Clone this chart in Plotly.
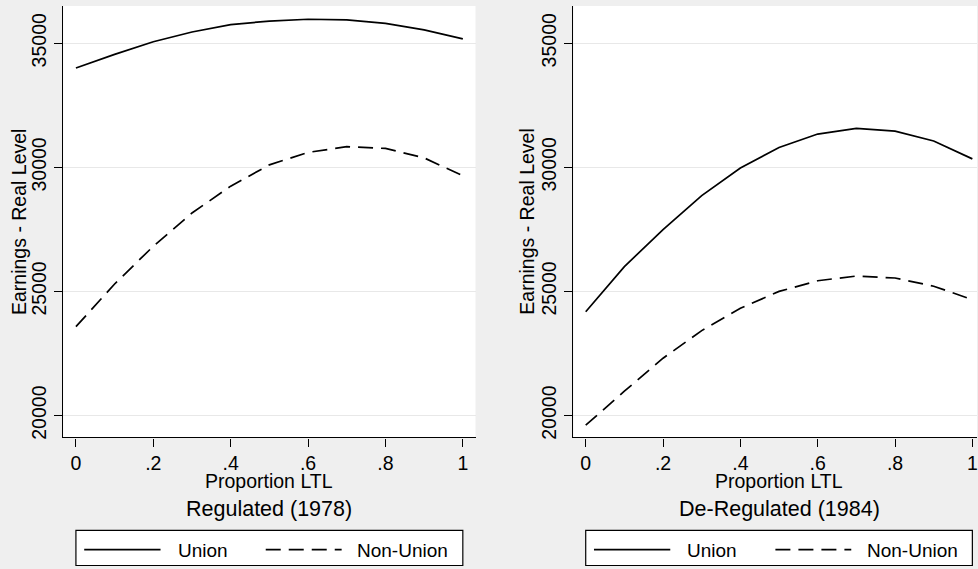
import plotly.graph_objects as go

# ---- data ----
x_ltl = [0, 0.1, 0.2, 0.3, 0.4, 0.5, 0.6, 0.7, 0.8, 0.9, 1.0]
reg_union = [34000, 34550, 35060, 35450, 35750, 35890, 35965, 35940, 35800, 35535, 35175]
reg_nonunion = [23580, 25300, 26820, 28160, 29240, 30100, 30600, 30830, 30760, 30380, 29660]
dereg_union = [24180, 26000, 27490, 28860, 29970, 30800, 31340, 31570, 31460, 31060, 30340]
dereg_nonunion = [19610, 20980, 22310, 23420, 24320, 25000, 25430, 25620, 25540, 25210, 24670]

y_ticks = [20000, 25000, 30000, 35000]
y_ticklabels = ["20000", "25000", "30000", "35000"]
x_ticks = [0, 0.2, 0.4, 0.6, 0.8, 1.0]
x_ticklabels = ["0", ".2", ".4", ".6", ".8", "1"]
panel_titles = ["Regulated (1978)", "De-Regulated (1984)"]
series_names = ["Union", "Non-Union"]
y_title = "Earnings - Real Level"
x_title = "Proportion LTL"

# ---- layout constants ----
W, H = 978, 569
FONT = "Liberation Sans, Arial, sans-serif"
BG = "#efefef"
DASH = "15px,8px"
LW = 1.7


def px(v):
    return v / W


def py(v):
    return 1 - v / H


fig = go.Figure()

panels = [
    ("x", "y", reg_union, reg_nonunion),
    ("x2", "y2", dereg_union, dereg_nonunion),
]
for xa, ya, uni, non in panels:
    fig.add_trace(go.Scatter(x=x_ltl, y=uni, mode="lines", xaxis=xa, yaxis=ya,
                             line=dict(color="black", width=LW), name=series_names[0],
                             showlegend=False))
    fig.add_trace(go.Scatter(x=x_ltl, y=non, mode="lines", xaxis=xa, yaxis=ya,
                             line=dict(color="black", width=LW, dash=DASH), name=series_names[1],
                             showlegend=False))

yrange = [19117, 36499]
ydom = [py(439), py(6)]

xcommon = dict(tickmode="array", tickvals=x_ticks, ticktext=x_ticklabels,
               ticks="outside", ticklen=8, tickwidth=1.2, tickcolor="black",
               showline=True, linecolor="black", linewidth=1.3, showgrid=False,
               zeroline=False, tickfont=dict(family=FONT, size=19.5, color="black"),
               ticklabeloverflow="allow")
ycommon = dict(tickmode="array", tickvals=y_ticks, ticktext=y_ticklabels,
               ticks="outside", ticklen=8,
               tickwidth=1.2, tickcolor="black", showline=True, linecolor="black",
               linewidth=1.3, showgrid=True, gridcolor="#e8e8e8", gridwidth=1.3,
               zeroline=False, tickangle=-90, range=yrange, domain=ydom,
               tickfont=dict(family=FONT, size=19.5, color="black"))

fig.update_layout(
    width=W, height=H,
    margin=dict(l=0, r=0, t=0, b=0),
    paper_bgcolor=BG, plot_bgcolor="white",
    showlegend=False,
    xaxis=dict(domain=[px(63.3), px(476)], range=[-0.0328, 1.0328], anchor="y", **xcommon),
    xaxis2=dict(domain=[px(574), 1.0], range=[-0.0318, 1.012], anchor="y2", **xcommon),
    yaxis=dict(anchor="x", **ycommon),
    yaxis2=dict(anchor="x2", **ycommon),
)

annotations = []
shapes = []
ytitle_x = [18.3, 527.5]
for i, (xa, ya, _, _) in enumerate(panels):
    annotations.append(dict(text=y_title, xref="paper", yref="paper", x=px(ytitle_x[i]),
                            y=(ydom[0] + ydom[1]) / 2, textangle=-90, showarrow=False,
                            xanchor="center", yanchor="middle",
                            font=dict(family=FONT, size=19.5, color="black")))
    annotations.append(dict(text=x_title, xref=xa, yref="paper", x=0.5, y=py(482.5),
                            showarrow=False, xanchor="center", yanchor="middle",
                            font=dict(family=FONT, size=19.5, color="black")))
    annotations.append(dict(text=panel_titles[i], xref=xa, yref="paper", x=0.5, y=py(510.7),
                            showarrow=False, xanchor="center", yanchor="middle",
                            font=dict(family=FONT, size=21.5, color="black")))
    # legend box
    shapes.append(dict(type="rect", xref=xa, yref="paper", x0=0, x1=1, y0=py(532.3), y1=py(567.5),
                       line=dict(color="black", width=1.2), fillcolor="white", layer="above"))
    shapes.append(dict(type="line", xref=xa, yref="paper", x0=0.0214, x1=0.2187,
                       y0=py(551.5), y1=py(551.5), line=dict(color="black", width=LW)))
    shapes.append(dict(type="line", xref=xa, yref="paper", x0=0.4906, x1=0.6868,
                       y0=py(551.5), y1=py(551.5), line=dict(color="black", width=LW, dash=DASH)))
    annotations.append(dict(text=series_names[0], xref=xa, yref="paper", x=0.258, y=py(552),
                            showarrow=False, xanchor="left", yanchor="middle",
                            font=dict(family=FONT, size=19, color="black")))
    annotations.append(dict(text=series_names[1], xref=xa, yref="paper", x=0.7225, y=py(552),
                            showarrow=False, xanchor="left", yanchor="middle",
                            font=dict(family=FONT, size=19, color="black")))

fig.update_layout(annotations=annotations, shapes=shapes)
fig.write_html(
    "out.html",
    config={"displayModeBar": False},
    post_script="document.body.style.margin='0';document.body.style.background='#efefef';",
)
